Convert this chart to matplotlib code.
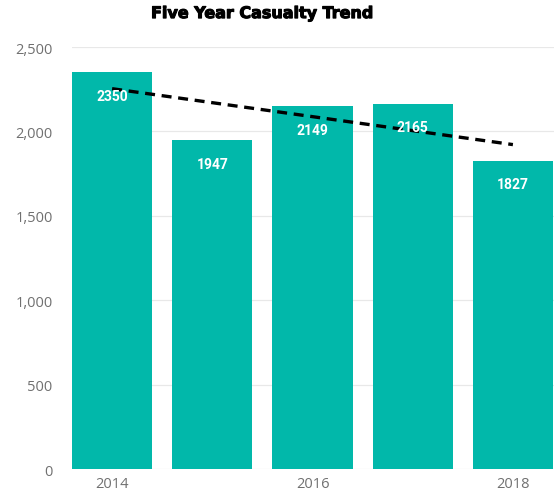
import numpy as np
import matplotlib
matplotlib.use("Agg")
import matplotlib.pyplot as plt
import matplotlib.patheffects as pe

years = [2014, 2015, 2016, 2017, 2018]
casualties = [2350, 1947, 2149, 2165, 1827]
yticks = [0, 500, 1000, 1500, 2000, 2500]
xlabels = ["2014", "", "2016", "", "2018"]

teal = "#01B8AA"
grey = "#707070"

fig = plt.figure(figsize=(5.54, 5.02), dpi=100)
ax = fig.add_axes([0.130, 0.0637, 0.870, 0.8406])

x = np.arange(len(years))
ax.bar(x, casualties, width=0.8, color=teal, zorder=2)

# linear trend line across the five years
slope, icpt = np.polyfit(x, casualties, 1)
ax.plot(x, slope * x + icpt, color="black", linestyle=(0, (3, 2)), linewidth=2.4, zorder=3)

for xi, v in zip(x, casualties):
    ax.annotate(str(v), (xi, v), xytext=(0, -17), textcoords="offset points",
                ha="center", va="center", color="white", fontsize=10,
                fontweight="bold", family="Roboto", zorder=4)

ax.set_xlim(-0.4, 4.41)
ax.set_ylim(0, 2500)
ax.set_yticks(yticks)
ax.set_yticklabels([f"{t:,}" for t in yticks])
ax.set_xticks(x)
ax.set_xticklabels(xlabels)
ax.tick_params(axis="both", length=0, colors=grey, labelsize=10.5)
ax.tick_params(axis="y", pad=14)
ax.tick_params(axis="x", pad=5)
for lbl in ax.get_xticklabels() + ax.get_yticklabels():
    lbl.set_family("Open Sans")

ax.grid(axis="y", color="#e8e8e8", linewidth=0.9, zorder=0)
ax.set_axisbelow(True)
for s in ax.spines.values():
    s.set_visible(False)

fig.text(0.474, 0.971, "Five Year Casualty Trend", ha="center", va="center",
         fontsize=11.5, fontweight="bold", family="DejaVu Sans",
         path_effects=[pe.withStroke(linewidth=0.8, foreground="black")])

fig.savefig("out.png", dpi=100)
